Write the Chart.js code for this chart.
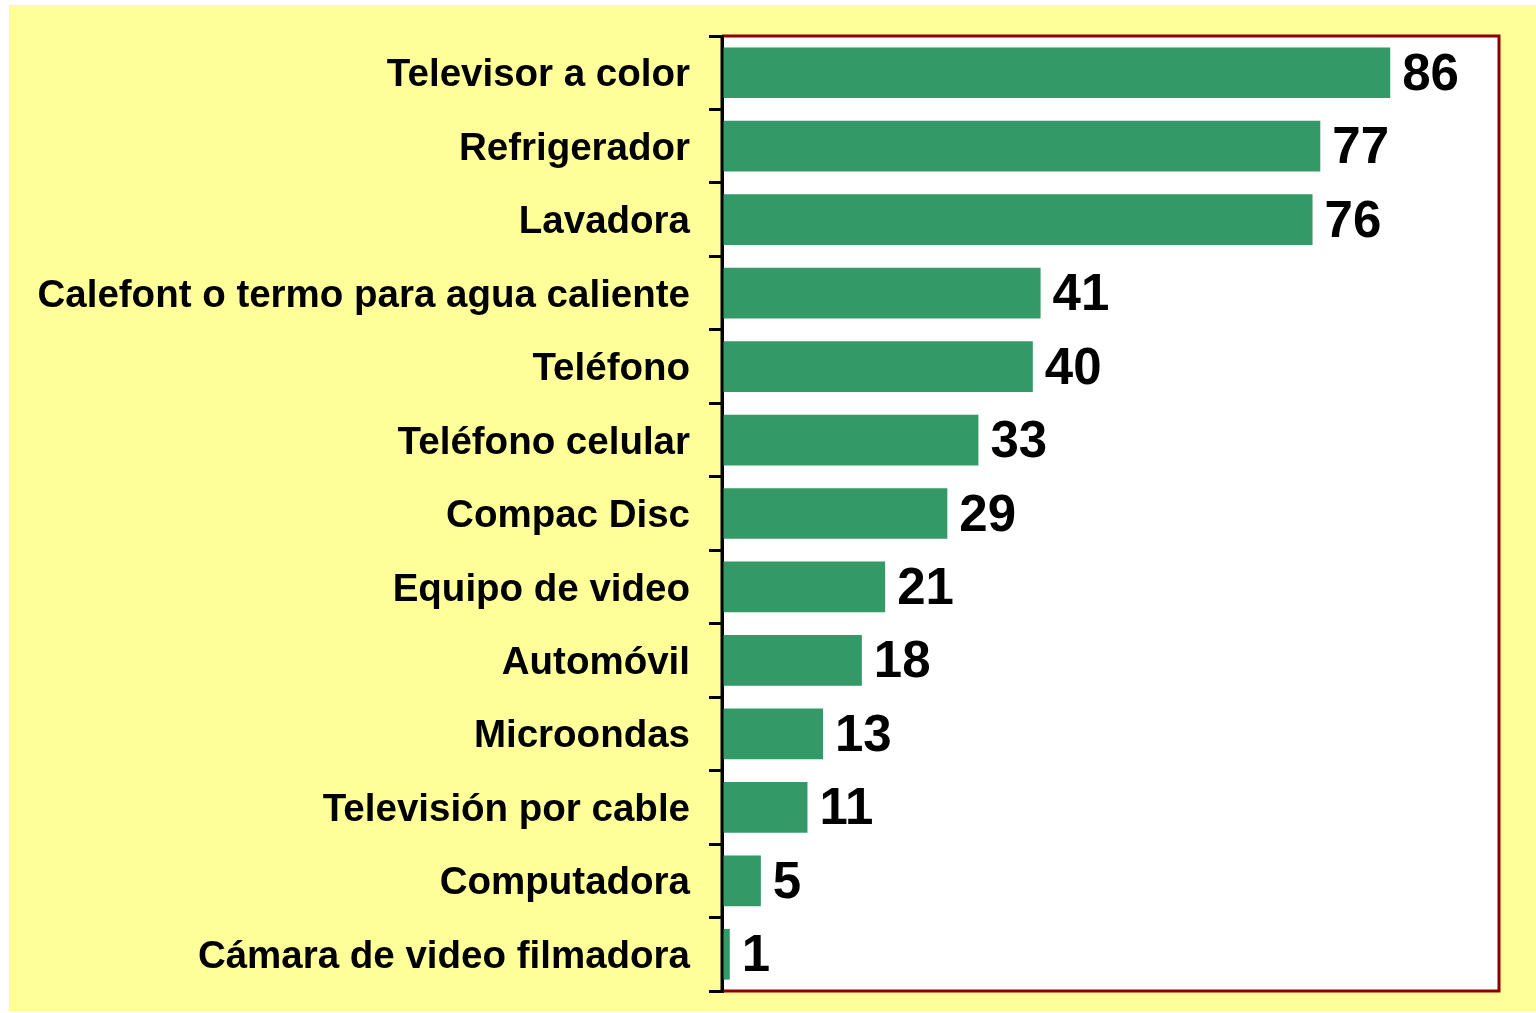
<!DOCTYPE html>
<html>
<head>
<meta charset="utf-8">
<script src="https://cdn.jsdelivr.net/npm/chart.js@4"></script>
<style>
  html, body { margin: 0; padding: 0; background: #fff; overflow: hidden; }
  canvas { display: block; }
</style>
</head>
<body>
<canvas id="c" width="1536" height="1013"></canvas>
<script>
// categories top to bottom
const categories = [
    'Televisor a color',
    'Refrigerador',
    'Lavadora',
    'Calefont o termo para agua caliente',
    'Teléfono',
    'Teléfono celular',
    'Compac Disc',
    'Equipo de video',
    'Automóvil',
    'Microondas',
    'Televisión por cable',
    'Computadora',
    'Cámara de video filmadora'
];
const values = [86, 77, 76, 41, 40, 33, 29, 21, 18, 13, 11, 5, 1];

const FONT = '"Liberation Sans", Arial, sans-serif';

// yellow backdrop + dark red plot frame
const framePlugin = {
    id: 'frame',
    beforeDraw(chart) {
        const ctx = chart.ctx;
        const a = chart.chartArea;
        ctx.save();
        ctx.fillStyle = '#FFFF99';
        ctx.fillRect(9, 5, 1527, 1006);
        ctx.fillStyle = '#FFFFFF';
        ctx.fillRect(a.left, a.top, a.right - a.left, a.bottom - a.top);
        ctx.restore();
    },
    afterDraw(chart) {
        const ctx = chart.ctx;
        const a = chart.chartArea;
        ctx.save();
        ctx.strokeStyle = '#8B0000';
        ctx.lineWidth = 3;
        ctx.beginPath();
        ctx.moveTo(a.left, a.top);
        ctx.lineTo(a.right, a.top);
        ctx.lineTo(a.right, a.bottom);
        ctx.lineTo(a.left, a.bottom);
        ctx.stroke();
        // black value axis on top of frame
        ctx.strokeStyle = '#000';
        ctx.beginPath();
        ctx.moveTo(a.left, a.top - 1);
        ctx.lineTo(a.left, a.bottom + 1);
        ctx.stroke();
        ctx.restore();
    }
};

// numbers at the bar ends
const valueLabels = {
    id: 'valueLabels',
    afterDatasetsDraw(chart) {
        const ctx = chart.ctx;
        const meta = chart.getDatasetMeta(0);
        ctx.save();
        ctx.font = 'bold 51px ' + FONT;
        ctx.fillStyle = '#000';
        ctx.textAlign = 'left';
        ctx.textBaseline = 'middle';
        meta.data.forEach((bar, i) => {
            ctx.fillText(String(values[i]), bar.x + 12, bar.y + 3);
        });
        ctx.restore();
    }
};

new Chart(document.getElementById('c'), {
    type: 'bar',
    data: {
        labels: categories,
        datasets: [{
            data: values,
            backgroundColor: '#339966',
            borderWidth: 0,
            barPercentage: 0.69,
            categoryPercentage: 1
        }]
    },
    options: {
        indexAxis: 'y',
        responsive: false,
        animation: false,
        devicePixelRatio: 1,
        layout: { padding: { top: 36, right: 37, bottom: 22, left: 0 } },
        scales: {
            x: {
                display: false,
                min: 0,
                max: 100
            },
            y: {
                afterFit(scale) {
                    scale.width = 722;
                    scale.paddingTop = 0;
                    scale.paddingBottom = 0;
                },
                grid: {
                    offset: true,
                    drawOnChartArea: false,
                    drawTicks: true,
                    tickLength: 13,
                    color: '#000',
                    lineWidth: 3
                },
                border: { display: true, color: '#000', width: 3 },
                ticks: {
                    color: '#000',
                    padding: 19,
                    labelOffset: 3,
                    font: { family: FONT, size: 38.5, weight: 'bold' }
                }
            }
        },
        plugins: {
            legend: { display: false },
            tooltip: { enabled: false }
        }
    },
    plugins: [framePlugin, valueLabels]
});
</script>
</body>
</html>
